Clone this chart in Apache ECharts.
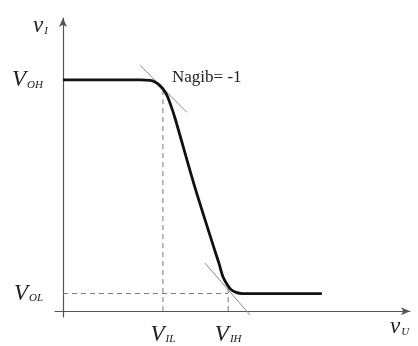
<!DOCTYPE html>
<html>
<head>
<meta charset="utf-8">
<script src="https://cdn.jsdelivr.net/npm/echarts@6/dist/echarts.min.js"></script>
<style>
  html, body { margin: 0; padding: 0; background: #fff; }
  #chart { width: 418px; height: 346px; }
</style>
</head>
<body>
<div id="chart"></div>
<script>
// prijenosna karakteristika invertora (proizvoljne jedinice)
const curveX = [0, 22.2, 25.1, 26.5, 27.7, 28.8, 30.0, 31.1, 32.3, 38.0, 43.8, 45.0, 46.1, 47.3, 48.4, 49.9, 51.6, 74.6];
const curveY = [78.9, 78.9, 78.7, 78.2, 77.2, 75.8, 73.5, 70.1, 65.8, 42.3, 20.5, 16.1, 11.7, 9.1, 7.4, 6.4, 6.0, 6.0];

const VOH = 78.9;
const VOL = 6.0;
const VIL = 28.8;
const VIH = 47.6;

// tangente nagiba -1
const tangent1 = [[22.2, 83.9], [35.7, 67.8]];
const tangent2 = [[40.9, 16.4], [53.9, -1.3]];

const yTickLabels = { [VOH]: 'OH', [VOL]: 'OL' };
const xTickLabels = { [VIL]: 'IL', [VIH]: 'IH' };
const slopeText = 'Nagib= -1';

const serif = '"Liberation Serif", "DejaVu Serif", serif';
const richV = {
  v: { fontFamily: serif, fontStyle: 'italic', fontSize: 23, color: '#222' },
  s: { fontFamily: serif, fontStyle: 'italic', fontSize: 11, color: '#222', padding: [10, 0, 0, 1] }
};

const chart = echarts.init(document.getElementById('chart'), null, { renderer: 'canvas' });

const dashed = { color: '#777', width: 1, type: [5, 4] };

chart.setOption({
  animation: false,
  grid: { left: 55, right: 8, top: 18, bottom: 24 },
  xAxis: {
    type: 'value',
    min: -2.3,
    max: 100,
    axisLine: { onZero: true, lineStyle: { color: '#555', width: 1.2 }, symbol: ['none', 'arrow'], symbolSize: [6, 9] },
    axisTick: { show: false },
    splitLine: { show: false },
    axisLabel: {
      customValues: [VIL, VIH],
      margin: 6,
      formatter: v => '{v|V}{s|' + (xTickLabels[v] || '') + '}',
      rich: richV
    },
    name: '{v|v}{s|U}',
    nameLocation: 'end',
    nameGap: -20,
    nameTextStyle: { align: 'left', verticalAlign: 'top', padding: [4, 0, 0, 0], rich: richV }
  },
  yAxis: {
    type: 'value',
    min: -2,
    max: 100,
    axisLine: { onZero: true, lineStyle: { color: '#555', width: 1.2 }, symbol: ['none', 'arrow'], symbolSize: [6, 9] },
    axisTick: { show: false },
    splitLine: { show: false },
    axisLabel: {
      customValues: [VOL, VOH],
      margin: 12,
      formatter: v => '{v|V}{s|' + (yTickLabels[v] || '') + '}',
      rich: richV
    },
    name: '{v|v}{s|I}',
    nameLocation: 'end',
    nameGap: -8,
    nameTextStyle: { align: 'right', verticalAlign: 'middle', padding: [0, 15, 0, 0], rich: richV }
  },
  series: [
    {
      type: 'line', symbol: 'none', silent: true,
      data: [[VIL, 0], [VIL, 75]], lineStyle: dashed
    },
    {
      type: 'line', symbol: 'none', silent: true,
      data: [[VIH, 0], [VIH, 8.1]], lineStyle: dashed
    },
    {
      type: 'line', symbol: 'none', silent: true,
      data: [[0, VOL], [VIH, VOL]], lineStyle: dashed
    },
    {
      type: 'line', symbol: 'none', silent: true,
      data: tangent1, lineStyle: { color: '#888', width: 1 }
    },
    {
      type: 'line', symbol: 'none', silent: true,
      data: tangent2, lineStyle: { color: '#888', width: 1 }
    },
    {
      type: 'line', symbol: 'none', silent: true, smooth: 0.25,
      data: curveX.map((x, i) => [x, curveY[i]]),
      lineStyle: { color: '#111', width: 2.8 }
    }
  ],
  graphic: [
    {
      type: 'text', left: 172, top: 69,
      style: { text: slopeText, font: '17px ' + serif, fill: '#222' }
    }
  ]
});
</script>
</body>
</html>
